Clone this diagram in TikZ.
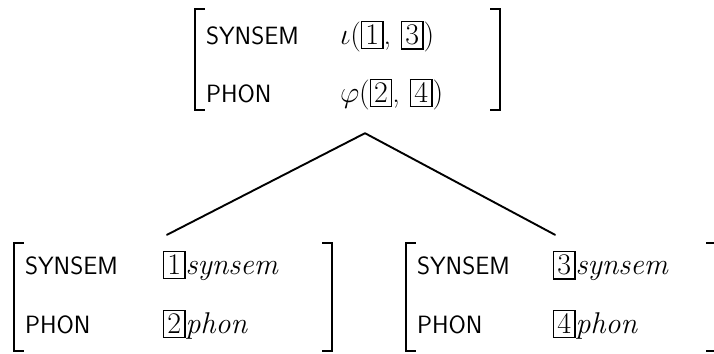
\RequirePackage{fix-cm}
\documentclass[tikz,border=0pt]{standalone}
\usepackage{fontspec}
\usepackage{tikz}
\usetikzlibrary{calc}

\newcommand{\boxtag}[1]{{\setlength{\fboxsep}{3pt}\setlength{\fboxrule}{1.4pt}\fbox{#1}}}
\newcommand{\attr}[1]{{\fontsize{25}{30}\selectfont\sffamily #1}}

\begin{document}
\begin{tikzpicture}[
    x=1pt, y=1pt,
    line cap=round,
    line join=round,
    avm/.style={inner xsep=11pt, inner ysep=0pt, align=left,
        font=\fontsize{30}{36}\selectfont},
    parentesi/.style={line width=2pt, line cap=butt, line join=miter},
    ramo/.style={line width=1.9pt}
]
\useasboundingbox (0,0) rectangle (714,353);

% Nodo madre
\node[avm, text width=283pt] (madre) at (347.5,286.2) {%
  \begin{tabular}{@{}p{134pt}@{}l@{}}
    \attr{SYNSEM} & $\iota$(\boxtag{1}, \boxtag{3})\\[22pt]
    \attr{PHON} & $\varphi$(\boxtag{2}, \boxtag{4})
  \end{tabular}};

% Figlie
\node[avm, text width=296pt] (sx) at (173,55.7) {%
  \begin{tabular}{@{}p{138pt}@{}l@{}}
    \attr{SYNSEM} & \boxtag{1}\textit{synsem}\\[23pt]
    \attr{PHON} & \boxtag{2}\textit{phon}
  \end{tabular}};
\node[avm, text width=288pt] (dx) at (561,55.7) {%
  \begin{tabular}{@{}p{136pt}@{}l@{}}
    \attr{SYNSEM} & \boxtag{3}\textit{synsem}\\[23pt]
    \attr{PHON} & \boxtag{4}\textit{phon}
  \end{tabular}};

% Parentesi quadre
\foreach \n/\su/\giu in {madre/10.8/-3.8, sx/6.8/6.2, dx/6.8/6.2} {
  \draw[parentesi] ([shift={(10pt,\su pt)}]\n.north west) -- ([yshift=\su pt]\n.north west)
      -- ([yshift=-\giu pt]\n.south west) -- ([shift={(10pt,-\giu pt)}]\n.south west);
  \draw[parentesi] ([shift={(-10pt,\su pt)}]\n.north east) -- ([yshift=\su pt]\n.north east)
      -- ([yshift=-\giu pt]\n.south east) -- ([shift={(-10pt,-\giu pt)}]\n.south east);
}

% Rami
\coordinate (apice) at ([xshift=17.5pt,yshift=-19.2pt]madre.south);
\coordinate (attsx) at ([xshift=-6pt,yshift=14.8pt]sx.north);
\coordinate (attdx) at ([xshift=-6pt,yshift=14.8pt]dx.north);
\draw[ramo] (attsx) -- (apice) -- (attdx);

\end{tikzpicture}
\end{document}
